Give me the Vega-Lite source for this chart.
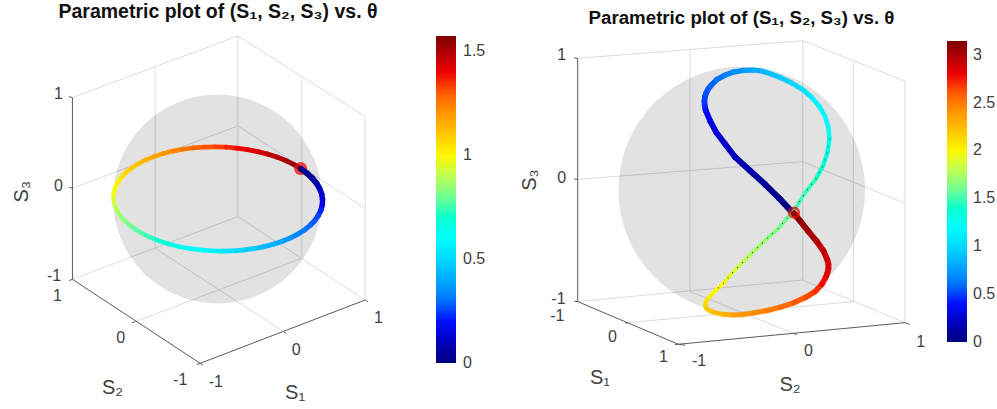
{"$schema":"https://vega.github.io/schema/vega-lite/v6.json","background":"white","padding":0,"spacing":0,"bounds":"flush","config":{"view":{"stroke":null}},
"resolve":{"scale":{"color":"independent","strokeWidth":"independent"},"legend":{"color":"independent"}},
"datasets":{
"centre":[{"h":0,"v":0}],
"curveA":[{"theta":0,"h":0.796,"v":0.29},{"theta":0.026,"h":0.856,"v":0.246},{"theta":0.052,"h":0.907,"v":0.199},{"theta":0.079,"h":0.947,"v":0.15},{"theta":0.105,"h":0.977,"v":0.1},{"theta":0.131,"h":0.997,"v":0.048},{"theta":0.157,"h":1.005,"v":-0.004},{"theta":0.183,"h":1.003,"v":-0.056},{"theta":0.209,"h":0.989,"v":-0.108},{"theta":0.236,"h":0.965,"v":-0.158},{"theta":0.262,"h":0.931,"v":-0.207},{"theta":0.288,"h":0.886,"v":-0.253},{"theta":0.314,"h":0.832,"v":-0.297},{"theta":0.34,"h":0.768,"v":-0.337},{"theta":0.367,"h":0.696,"v":-0.374},{"theta":0.393,"h":0.617,"v":-0.406},{"theta":0.419,"h":0.531,"v":-0.434},{"theta":0.445,"h":0.439,"v":-0.458},{"theta":0.471,"h":0.343,"v":-0.476},{"theta":0.497,"h":0.242,"v":-0.489},{"theta":0.524,"h":0.14,"v":-0.497},{"theta":0.55,"h":0.035,"v":-0.499},{"theta":0.576,"h":-0.07,"v":-0.496},{"theta":0.602,"h":-0.174,"v":-0.487},{"theta":0.628,"h":-0.275,"v":-0.473},{"theta":0.654,"h":-0.375,"v":-0.454},{"theta":0.681,"h":-0.469,"v":-0.43},{"theta":0.707,"h":-0.559,"v":-0.401},{"theta":0.733,"h":-0.642,"v":-0.368},{"theta":0.759,"h":-0.718,"v":-0.331},{"theta":0.785,"h":-0.786,"v":-0.29},{"theta":0.812,"h":-0.846,"v":-0.246},{"theta":0.838,"h":-0.897,"v":-0.199},{"theta":0.864,"h":-0.937,"v":-0.15},{"theta":0.89,"h":-0.967,"v":-0.1},{"theta":0.916,"h":-0.987,"v":-0.048},{"theta":0.942,"h":-0.995,"v":0.004},{"theta":0.969,"h":-0.993,"v":0.056},{"theta":0.995,"h":-0.979,"v":0.108},{"theta":1.021,"h":-0.955,"v":0.158},{"theta":1.047,"h":-0.921,"v":0.207},{"theta":1.073,"h":-0.876,"v":0.253},{"theta":1.1,"h":-0.822,"v":0.297},{"theta":1.126,"h":-0.758,"v":0.337},{"theta":1.152,"h":-0.686,"v":0.374},{"theta":1.178,"h":-0.607,"v":0.406},{"theta":1.204,"h":-0.521,"v":0.434},{"theta":1.23,"h":-0.429,"v":0.458},{"theta":1.257,"h":-0.333,"v":0.476},{"theta":1.283,"h":-0.232,"v":0.489},{"theta":1.309,"h":-0.13,"v":0.497},{"theta":1.335,"h":-0.025,"v":0.499},{"theta":1.361,"h":0.08,"v":0.496},{"theta":1.388,"h":0.184,"v":0.487},{"theta":1.414,"h":0.285,"v":0.473},{"theta":1.44,"h":0.385,"v":0.454},{"theta":1.466,"h":0.479,"v":0.43},{"theta":1.492,"h":0.569,"v":0.401},{"theta":1.518,"h":0.652,"v":0.368},{"theta":1.545,"h":0.728,"v":0.331},{"theta":1.571,"h":0.796,"v":0.29}],
"curveB":[{"theta":0,"h":0.419,"v":-0.189},{"theta":0.05,"h":0.305,"v":-0.068},{"theta":0.1,"h":0.189,"v":0.046},{"theta":0.15,"h":0.068,"v":0.157},{"theta":0.2,"h":-0.054,"v":0.268},{"theta":0.25,"h":-0.135,"v":0.373},{"theta":0.3,"h":-0.208,"v":0.47},{"theta":0.35,"h":-0.257,"v":0.562},{"theta":0.4,"h":-0.292,"v":0.646},{"theta":0.425,"h":-0.3,"v":0.685},{"theta":0.45,"h":-0.302,"v":0.722},{"theta":0.475,"h":-0.298,"v":0.756},{"theta":0.5,"h":-0.287,"v":0.789},{"theta":0.525,"h":-0.272,"v":0.819},{"theta":0.55,"h":-0.25,"v":0.846},{"theta":0.6,"h":-0.203,"v":0.895},{"theta":0.65,"h":-0.138,"v":0.93},{"theta":0.7,"h":-0.068,"v":0.957},{"theta":0.75,"h":0.014,"v":0.97},{"theta":0.8,"h":0.095,"v":0.973},{"theta":0.85,"h":0.162,"v":0.965},{"theta":0.9,"h":0.224,"v":0.946},{"theta":0.95,"h":0.316,"v":0.911},{"theta":1.0,"h":0.405,"v":0.868},{"theta":1.05,"h":0.492,"v":0.816},{"theta":1.1,"h":0.568,"v":0.751},{"theta":1.15,"h":0.63,"v":0.678},{"theta":1.2,"h":0.676,"v":0.597},{"theta":1.25,"h":0.703,"v":0.508},{"theta":1.3,"h":0.711,"v":0.414},{"theta":1.35,"h":0.697,"v":0.311},{"theta":1.4,"h":0.662,"v":0.203},{"theta":1.45,"h":0.603,"v":0.092},{"theta":1.5,"h":0.514,"v":-0.022},{"theta":1.57,"h":0.414,"v":-0.184},{"theta":1.6,"h":0.365,"v":-0.232},{"theta":1.65,"h":0.295,"v":-0.314},{"theta":1.7,"h":0.203,"v":-0.395},{"theta":1.75,"h":0.119,"v":-0.476},{"theta":1.8,"h":0.043,"v":-0.551},{"theta":1.85,"h":-0.03,"v":-0.624},{"theta":1.9,"h":-0.095,"v":-0.692},{"theta":1.95,"h":-0.146,"v":-0.754},{"theta":2.0,"h":-0.208,"v":-0.811},{"theta":2.05,"h":-0.251,"v":-0.854},{"theta":2.1,"h":-0.284,"v":-0.897},{"theta":2.125,"h":-0.293,"v":-0.92},{"theta":2.15,"h":-0.295,"v":-0.941},{"theta":2.175,"h":-0.287,"v":-0.959},{"theta":2.2,"h":-0.27,"v":-0.973},{"theta":2.225,"h":-0.245,"v":-0.985},{"theta":2.25,"h":-0.216,"v":-0.995},{"theta":2.3,"h":-0.149,"v":-1.008},{"theta":2.356,"h":-0.076,"v":-1.014},{"theta":2.4,"h":0,"v":-1.011},{"theta":2.45,"h":0.095,"v":-0.997},{"theta":2.5,"h":0.203,"v":-0.978},{"theta":2.55,"h":0.311,"v":-0.951},{"theta":2.6,"h":0.419,"v":-0.916},{"theta":2.65,"h":0.519,"v":-0.87},{"theta":2.7,"h":0.595,"v":-0.824},{"theta":2.75,"h":0.649,"v":-0.765},{"theta":2.8,"h":0.684,"v":-0.703},{"theta":2.825,"h":0.696,"v":-0.669},{"theta":2.85,"h":0.703,"v":-0.635},{"theta":2.875,"h":0.703,"v":-0.601},{"theta":2.9,"h":0.695,"v":-0.568},{"theta":2.95,"h":0.662,"v":-0.492},{"theta":3.0,"h":0.608,"v":-0.416},{"theta":3.05,"h":0.541,"v":-0.335},{"theta":3.1,"h":0.473,"v":-0.251},{"theta":3.14,"h":0.424,"v":-0.189}],
"gridA":[{"h":-1.388,"v":0.97,"h2":0.195,"v2":1.56},{"h":0.195,"v":1.56,"h2":1.413,"v2":0.788},{"h":1.413,"v":0.788,"h2":1.413,"v2":-0.967},{"h":0.195,"v":1.56,"h2":0.195,"v2":-0.169},{"h":0.195,"v":-0.169,"h2":-1.388,"v2":-0.769},{"h":0.195,"v":-0.169,"h2":1.413,"v2":-0.967},{"h":-0.788,"v":-1.174,"h2":0.807,"v2":-0.568},{"h":-0.596,"v":-0.472,"h2":0.632,"v2":-1.27},{"h":-0.596,"v":1.266,"h2":-0.596,"v2":-0.472},{"h":0.807,"v":1.171,"h2":0.807,"v2":-0.568},{"h":-1.388,"v":0.102,"h2":0.195,"v2":0.699},{"h":0.195,"v":0.699,"h2":1.413,"v2":-0.089}],
"axisA":[{"h":-1.388,"v":0.97,"h2":-1.388,"v2":-0.769},{"h":-1.388,"v":-0.769,"h2":-0.166,"v2":-1.573},{"h":-0.166,"v":-1.573,"h2":1.413,"v2":-0.967},{"h":-1.388,"v":0.97,"h2":-1.42,"v2":0.98},{"h":-1.388,"v":0.102,"h2":-1.42,"v2":0.112},{"h":-1.388,"v":-0.769,"h2":-1.42,"v2":-0.781},{"h":-0.788,"v":-1.174,"h2":-0.82,"v2":-1.187},{"h":-0.166,"v":-1.573,"h2":-0.198,"v2":-1.585},{"h":-0.166,"v":-1.573,"h2":-0.14,"v2":-1.59},{"h":0.632,"v":-1.27,"h2":0.657,"v2":-1.285},{"h":1.413,"v":-0.967,"h2":1.438,"v2":-0.983},{"h":2.258,"v":-0.57,"h2":2.279,"v2":-0.57},{"h":2.258,"v":0.426,"h2":2.279,"v2":0.426},{"h":2.258,"v":1.421,"h2":2.279,"v2":1.421}],
"textA":[{"label":"1","kind":"tick","h":-1.522,"v":1.002},{"label":"0","kind":"tick","h":-1.522,"v":0.128},{"label":"-1","kind":"tick","h":-1.563,"v":-0.737},{"label":"1","kind":"tick","h":-1.531,"v":-0.928},{"label":"0","kind":"tick","h":-0.925,"v":-1.333},{"label":"-1","kind":"tick","h":-0.357,"v":-1.732},{"label":"-1","kind":"tick","h":-0.016,"v":-1.754},{"label":"0","kind":"tick","h":0.753,"v":-1.445},{"label":"1","kind":"tick","h":1.541,"v":-1.142},{"label":"S₂","kind":"title","h":-1.005,"v":-1.812},{"label":"S₁","kind":"title","h":0.743,"v":-1.86},{"label":"S₃","kind":"titleV","h":-1.872,"v":0.07}],
"markerA":[{"h":0.796,"v":0.29}],
"gridB":[{"h":-1.33,"v":1.068,"h2":0.495,"v2":1.211},{"h":0.495,"v":1.211,"h2":1.324,"v2":0.884},{"h":1.324,"v":0.884,"h2":1.324,"v2":-1.076},{"h":0.495,"v":1.211,"h2":0.495,"v2":-0.73},{"h":0.495,"v":-0.73,"h2":-1.33,"v2":-0.905},{"h":0.495,"v":-0.73,"h2":1.324,"v2":-1.076},{"h":-0.919,"v":-1.076,"h2":0.905,"v2":-0.905},{"h":-0.419,"v":-0.824,"h2":0.419,"v2":-1.162},{"h":-0.419,"v":1.135,"h2":-0.419,"v2":-0.824},{"h":0.905,"v":1.049,"h2":0.905,"v2":-0.905},{"h":-1.33,"v":0.086,"h2":0.495,"v2":0.23},{"h":0.495,"v":0.23,"h2":1.324,"v2":-0.108}],
"axisB":[{"h":-1.33,"v":1.068,"h2":-1.33,"v2":-0.905},{"h":-1.33,"v":-0.905,"h2":-0.514,"v2":-1.251},{"h":-0.514,"v":-1.251,"h2":1.324,"v2":-1.076},{"h":-1.33,"v":1.068,"h2":-1.357,"v2":1.072},{"h":-1.33,"v":0.086,"h2":-1.357,"v2":0.088},{"h":-1.33,"v":-0.905,"h2":-1.357,"v2":-0.903},{"h":-0.919,"v":-1.076,"h2":-0.946,"v2":-1.079},{"h":-0.514,"v":-1.251,"h2":-0.541,"v2":-1.253},{"h":-0.514,"v":-1.251,"h2":-0.457,"v2":-1.259},{"h":0.419,"v":-1.162,"h2":0.446,"v2":-1.173},{"h":1.324,"v":-1.076,"h2":1.36,"v2":-1.089},{"h":1.807,"v":-0.846,"h2":1.825,"v2":-0.846},{"h":1.807,"v":-0.458,"h2":1.825,"v2":-0.458},{"h":1.807,"v":-0.07,"h2":1.825,"v2":-0.07},{"h":1.807,"v":0.319,"h2":1.825,"v2":0.319},{"h":1.807,"v":0.707,"h2":1.825,"v2":0.707},{"h":1.807,"v":1.096,"h2":1.825,"v2":1.096}],
"textB":[{"label":"1","kind":"tick","h":-1.459,"v":1.095},{"label":"0","kind":"tick","h":-1.459,"v":0.1},{"label":"-1","kind":"tick","h":-1.486,"v":-0.885},{"label":"-1","kind":"tick","h":-1.495,"v":-1.022},{"label":"0","kind":"tick","h":-1.049,"v":-1.189},{"label":"1","kind":"tick","h":-0.635,"v":-1.357},{"label":"-1","kind":"tick","h":-0.346,"v":-1.384},{"label":"0","kind":"tick","h":0.541,"v":-1.303},{"label":"1","kind":"tick","h":1.451,"v":-1.235},{"label":"S₁","kind":"title","h":-1.149,"v":-1.527},{"label":"S₂","kind":"title","h":0.392,"v":-1.581},{"label":"S₃","kind":"titleV","h":-1.716,"v":0.081}],
"markerB":[{"h":0.424,"v":-0.184}]
},
"hconcat":[
{"width":498,"height":409,
"title":{"text":"Parametric plot of (S₁, S₂, S₃) vs. θ","font":"Liberation Sans","fontSize":19.5,"fontWeight":"bold","color":"#111111","anchor":"middle","frame":"group","offset":-22,"dx":-31},
"encoding":{"x":{"field":"h","type":"quantitative","axis":null,"scale":{"domain":[-2.081,2.684],"nice":false,"zero":false}},"y":{"field":"v","type":"quantitative","axis":null,"scale":{"domain":[-2.01,1.904],"nice":false,"zero":false}}},
"layer":[
{"data":{"name":"gridA"},"mark":{"type":"rule","stroke":"#dcdcdc","strokeWidth":1},"encoding":{"x2":{"field":"h2"},"y2":{"field":"v2"}}},
{"data":{"name":"axisA"},"mark":{"type":"rule","stroke":"#5a5a5a","strokeWidth":1},"encoding":{"x2":{"field":"h2"},"y2":{"field":"v2"}}},
{"data":{"name":"centre"},"mark":{"type":"point","shape":"circle","filled":true,"size":43681,"fill":"#000000","fillOpacity":0.115,"strokeWidth":0}},
{"data":{"name":"curveA"},"transform":[{"window":[{"op":"lead","field":"h","as":"h2"},{"op":"lead","field":"v","as":"v2"}],"sort":[{"field":"theta"}]},{"filter":"isValid(datum.h2)"}],"mark":{"type":"rule","strokeCap":"round"},"encoding":{"x2":{"field":"h2"},"y2":{"field":"v2"},"strokeWidth":{"field":"theta","type":"quantitative","legend":null,"scale":{"domain":[0,0.3,0.8,1.571],"range":[5.8,5,4.3,5]}},"color":{"field":"theta","type":"quantitative","scale":{"domain":[0,0.196,0.589,0.982,1.374,1.571],"range":["#00007f","#0000ff","#00ffff","#ffff00","#ff0000","#7f0000"],"nice":false,"zero":false},"legend":{"title":null,"orient":"none","legendX":436,"legendY":36,"direction":"vertical","gradientLength":327,"gradientThickness":20,"values":[0,0.5,1,1.5],"format":"~g","labelFont":"Liberation Sans","labelFontSize":16,"labelColor":"#404040","labelOffset":7,"encode":{"labels":{"update":{"baseline":{"value":"middle"}}}}}}}},
{"data":{"name":"markerA"},"mark":{"type":"point","shape":"circle","filled":true,"size":175,"fill":"#f00000","strokeWidth":0}},
{"data":{"name":"curveA"},"transform":[{"filter":"datum.theta<0.1"},{"window":[{"op":"lead","field":"h","as":"h2"},{"op":"lead","field":"v","as":"v2"}],"sort":[{"field":"theta"}]},{"filter":"isValid(datum.h2)"}],"mark":{"type":"rule","strokeCap":"round","strokeWidth":5.5},"encoding":{"x2":{"field":"h2"},"y2":{"field":"v2"},"color":{"field":"theta","type":"quantitative"}}},
{"data":{"name":"textA"},"transform":[{"filter":"datum.kind==='tick'"}],"mark":{"type":"text","font":"Liberation Sans","fontSize":16,"color":"#404040","align":"center","baseline":"middle"},"encoding":{"text":{"field":"label"}}},
{"data":{"name":"textA"},"transform":[{"filter":"datum.kind==='title'"}],"mark":{"type":"text","font":"Liberation Sans","fontSize":20,"color":"#404040","align":"center","baseline":"middle"},"encoding":{"text":{"field":"label"}}},
{"data":{"name":"textA"},"transform":[{"filter":"datum.kind==='titleV'"}],"mark":{"type":"text","font":"Liberation Sans","fontSize":20,"color":"#404040","align":"center","baseline":"middle","angle":270},"encoding":{"text":{"field":"label"}}}
]},
{"width":499,"height":409,
"title":{"text":"Parametric plot of (S₁, S₂, S₃) vs. θ","font":"Liberation Sans","fontSize":18.7,"fontWeight":"bold","color":"#111111","anchor":"middle","frame":"group","offset":-28,"dx":-6},
"encoding":{"x":{"field":"h","type":"quantitative","axis":null,"scale":{"domain":[-1.976,2.07],"nice":false,"zero":false}},"y":{"field":"v","type":"quantitative","axis":null,"scale":{"domain":[-1.776,1.541],"nice":false,"zero":false}}},
"layer":[
{"data":{"name":"gridB"},"mark":{"type":"rule","stroke":"#dcdcdc","strokeWidth":1},"encoding":{"x2":{"field":"h2"},"y2":{"field":"v2"}}},
{"data":{"name":"axisB"},"mark":{"type":"rule","stroke":"#5a5a5a","strokeWidth":1},"encoding":{"x2":{"field":"h2"},"y2":{"field":"v2"}}},
{"data":{"name":"centre"},"mark":{"type":"point","shape":"circle","filled":true,"size":60860,"fill":"#000000","fillOpacity":0.115,"strokeWidth":0}},
{"data":{"name":"curveB"},"transform":[{"window":[{"op":"lead","field":"h","as":"h2"},{"op":"lead","field":"v","as":"v2"}],"sort":[{"field":"theta"}]},{"filter":"isValid(datum.h2)"}],"mark":{"type":"rule","strokeCap":"round"},"encoding":{"x2":{"field":"h2"},"y2":{"field":"v2"},"strokeWidth":{"field":"theta","type":"quantitative","legend":null,"scale":{"domain":[0,0.8,1.3,1.5,2.0,2.3,3.14],"range":[6.2,5.2,4.4,4,4,5,6.2]}},"color":{"field":"theta","type":"quantitative","scale":{"domain":[0,0.393,1.178,1.963,2.749,3.142],"range":["#00007f","#0000ff","#00ffff","#ffff00","#ff0000","#7f0000"],"nice":false,"zero":false},"legend":{"title":null,"orient":"none","legendX":449,"legendY":41,"direction":"vertical","gradientLength":301,"gradientThickness":20,"values":[0,0.5,1,1.5,2,2.5,3],"format":"~g","labelFont":"Liberation Sans","labelFontSize":16,"labelColor":"#404040","labelOffset":6,"encode":{"labels":{"update":{"baseline":{"value":"middle"}}}}}}}},
{"data":{"name":"curveB"},"transform":[{"filter":"datum.theta>1.25 && datum.theta<2.05"}],"mark":{"type":"line","color":"#102010","strokeWidth":1.2,"strokeDash":[1,6],"opacity":0.8},"encoding":{"order":{"field":"theta","type":"quantitative"}}},
{"data":{"name":"markerB"},"mark":{"type":"point","shape":"circle","filled":false,"size":90,"stroke":"#f00000","strokeWidth":2.8}},
{"data":{"name":"textB"},"transform":[{"filter":"datum.kind==='tick'"}],"mark":{"type":"text","font":"Liberation Sans","fontSize":16,"color":"#404040","align":"center","baseline":"middle"},"encoding":{"text":{"field":"label"}}},
{"data":{"name":"textB"},"transform":[{"filter":"datum.kind==='title'"}],"mark":{"type":"text","font":"Liberation Sans","fontSize":20,"color":"#404040","align":"center","baseline":"middle"},"encoding":{"text":{"field":"label"}}},
{"data":{"name":"textB"},"transform":[{"filter":"datum.kind==='titleV'"}],"mark":{"type":"text","font":"Liberation Sans","fontSize":20,"color":"#404040","align":"center","baseline":"middle","angle":270},"encoding":{"text":{"field":"label"}}}
]}
]}
